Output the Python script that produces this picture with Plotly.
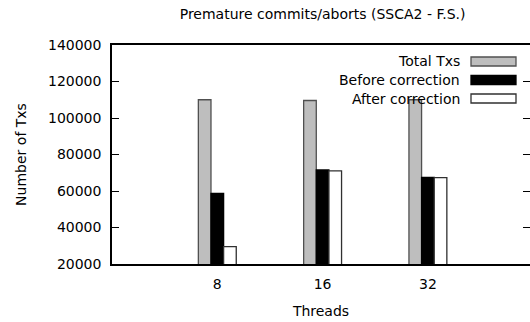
import plotly.graph_objects as go

threads = ["8", "16", "32"]
total_txs = [110000, 109600, 110000]
before_correction = [58700, 71500, 67500]
after_correction = [29500, 71000, 67300]
y_ticks = [20000, 40000, 60000, 80000, 100000, 120000, 140000]
y_tick_labels = ["20000", "40000", "60000", "80000", "100000", "120000", "140000"]

FONT = "DejaVu Sans"
FS = 14

W, H = 530, 322
L, R, T, B = 112, 0, 45, 58
pw = W - L - R
ph = H - T - B

xpos = list(range(len(threads)))

series = [
    ("Total Txs", total_txs, "#bebebe", "#505050"),
    ("Before correction", before_correction, "#000000", "#000000"),
    ("After correction", after_correction, "#ffffff", "#303030"),
]

fig = go.Figure()
for name, vals, fill, edge in series:
    fig.add_trace(go.Bar(
        x=xpos, y=vals, name=name, showlegend=False,
        marker=dict(color=fill, line=dict(color=edge, width=1.3)),
    ))

# invisible trace on right axis for mirrored ticks
fig.add_trace(go.Scatter(x=[xpos[0]], y=[y_ticks[0]], yaxis="y2",
                         mode="markers", marker=dict(opacity=0),
                         showlegend=False, hoverinfo="skip"))

unit = 105.3
xr = [-1, -1 + pw / unit]

fig.update_layout(
    width=W, height=H,
    margin=dict(l=L, r=R, t=T, b=B, autoexpand=False),
    paper_bgcolor="white", plot_bgcolor="white",
    barmode="group", bargap=0.64, bargroupgap=0,
    font=dict(family=FONT, size=FS, color="#000000"),
    title=dict(text="Premature commits/aborts (SSCA2 - F.S.)",
               x=(L + pw / 2) / W + 0.003, xanchor="center",
               y=1 - 14 / H, yanchor="middle",
               font=dict(family=FONT, size=FS)),
    xaxis=dict(range=xr, tickvals=xpos, ticktext=threads,
               showline=True, linecolor="#000000", linewidth=1.5,
               mirror=True, ticks="", showgrid=False, zeroline=False,
               ticklabelstandoff=6,
               title=dict(text="Threads", standoff=16,
                          font=dict(family=FONT, size=FS))),
    yaxis=dict(range=[y_ticks[0], y_ticks[-1]], tickvals=y_ticks,
               ticktext=y_tick_labels,
               showline=True, linecolor="#000000", linewidth=1.5,
               mirror=False, ticks="inside", ticklen=7, tickwidth=1,
               tickcolor="#000000", showgrid=False, zeroline=False,
               ticklabelstandoff=6,
               title=dict(text="Number of Txs", standoff=18,
                          font=dict(family=FONT, size=FS))),
    yaxis2=dict(range=[y_ticks[0], y_ticks[-1]], tickvals=y_ticks,
                overlaying="y", side="right", showline=False,
                ticks="inside", ticklen=7, tickwidth=1, tickcolor="#000000",
                showticklabels=False, showgrid=False, zeroline=False),
)

def px2x(px):
    return (px - L) / pw

def py2y(py):
    return (H - B - py) / ph

rows_y = [61.5, 80, 98.5]
for (name, vals, fill, edge), ry in zip(series, rows_y):
    fig.add_annotation(text=name, xref="paper", yref="paper",
                       x=px2x(462), y=py2y(ry), xanchor="right",
                       yanchor="middle", showarrow=False,
                       font=dict(family=FONT, size=FS))
    fig.add_shape(type="rect", xref="paper", yref="paper",
                  x0=px2x(471), x1=px2x(516),
                  y0=py2y(ry + 4.5), y1=py2y(ry - 4.5),
                  fillcolor=fill, line=dict(color=edge, width=1.3))

fig.write_html("out.html",
               config={"displayModeBar": False},
               post_script="document.body.style.margin='0';document.body.style.overflow='hidden';")
